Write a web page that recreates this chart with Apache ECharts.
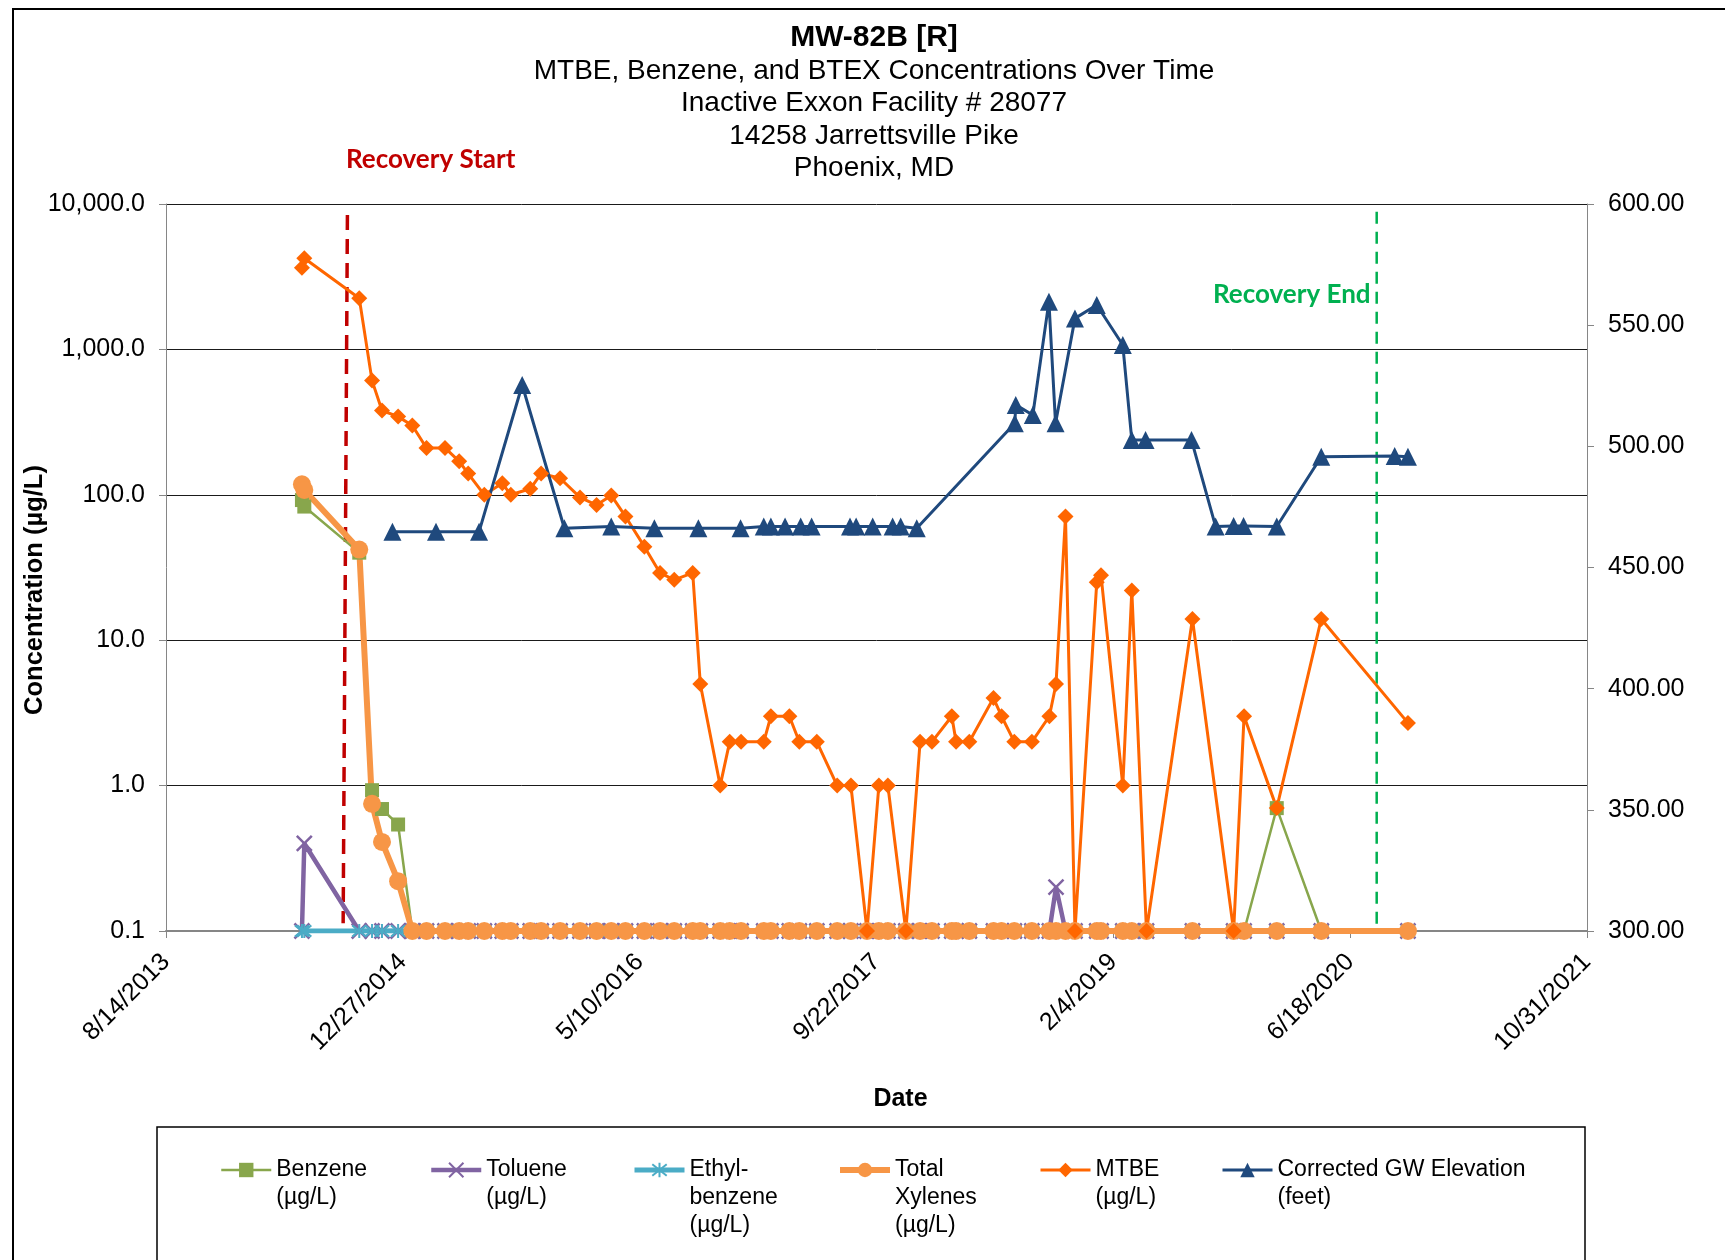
<!DOCTYPE html>
<html><head><meta charset="utf-8">
<script src="https://cdn.jsdelivr.net/npm/echarts/dist/echarts.min.js"></script>
<style>html,body{margin:0;padding:0;background:#fff}#chart{width:1725px;height:1260px}</style>
</head><body><div id="chart"></div>
<script>
// ---------------- DATA ----------------
const xTickLabels = ['8/14/2013', '12/27/2014', '5/10/2016', '9/22/2017', '2/4/2019', '6/18/2020', '10/31/2021'];
const yLeftTicks = [0.1, 1, 10, 100, 1000, 10000];
const yRightTicks = [300, 350, 400, 450, 500, 550, 600];

const sampleDates = [
 '2014-05-28','2014-06-02','2014-09-26','2014-10-23','2014-11-13','2014-12-17','2015-01-16','2015-02-15',
 '2015-03-26','2015-04-25','2015-05-14','2015-06-17','2015-07-25','2015-08-12','2015-09-22','2015-10-15',
 '2015-11-24','2016-01-05','2016-02-09','2016-03-11','2016-04-10','2016-05-20','2016-06-22','2016-07-22',
 '2016-08-30','2016-09-15','2016-10-27','2016-11-16','2016-12-10','2017-01-27','2017-02-11','2017-03-22',
 '2017-04-12','2017-05-19','2017-07-01','2017-07-30','2017-09-02','2017-09-27','2017-10-16','2017-11-23',
 '2017-12-23','2018-01-17','2018-02-28','2018-03-09','2018-04-06','2018-05-27','2018-06-13','2018-07-10',
 '2018-08-16','2018-09-22','2018-10-06','2018-10-26','2018-11-15','2018-12-31','2019-01-09','2019-02-24',
 '2019-03-15','2019-04-15','2019-07-21','2019-10-16','2019-11-07','2020-01-15','2020-04-18','2020-10-18'
];
const mtbe = [
 3650, 4240, 2250, 610, 380, 345, 300, 210,
 210, 170, 140, 100, 120, 100, 110, 140,
 130, 96, 85, 99, 71, 44, 29, 26,
 29, 5, 1, 2, 2, 2, 3, 3,
 2, 2, 1, 1, 0.1, 1, 1, 0.1,
 2, 2, 3, 2, 2, 4, 3, 2,
 2, 3, 5, 71, 0.1, 25, 28, 1,
 22, 0.1, 14, 0.1, 3, 0.7, 14, 2.7
];
const benzene = [
 92, 83, 40, 0.93, 0.69, 0.54, 0.1, 0.1,
 0.1, 0.1, 0.1, 0.1, 0.1, 0.1, 0.1, 0.1,
 0.1, 0.1, 0.1, 0.1, 0.1, 0.1, 0.1, 0.1,
 0.1, 0.1, 0.1, 0.1, 0.1, 0.1, 0.1, 0.1,
 0.1, 0.1, 0.1, 0.1, 0.1, 0.1, 0.1, 0.1,
 0.1, 0.1, 0.1, 0.1, 0.1, 0.1, 0.1, 0.1,
 0.1, 0.1, 0.1, 0.1, 0.1, 0.1, 0.1, 0.1,
 0.1, 0.1, 0.1, 0.1, 0.1, 0.7, 0.1, 0.1
];
const toluene = [
 0.1, 0.4, 0.1, 0.1, 0.1, 0.1, 0.1, 0.1,
 0.1, 0.1, 0.1, 0.1, 0.1, 0.1, 0.1, 0.1,
 0.1, 0.1, 0.1, 0.1, 0.1, 0.1, 0.1, 0.1,
 0.1, 0.1, 0.1, 0.1, 0.1, 0.1, 0.1, 0.1,
 0.1, 0.1, 0.1, 0.1, 0.1, 0.1, 0.1, 0.1,
 0.1, 0.1, 0.1, 0.1, 0.1, 0.1, 0.1, 0.1,
 0.1, 0.1, 0.2, 0.1, 0.1, 0.1, 0.1, 0.1,
 0.1, 0.1, 0.1, 0.1, 0.1, 0.1, 0.1, 0.1
];
const ethylbenzene = [
 0.1, 0.1, 0.1, 0.1, 0.1, 0.1, 0.1, 0.1,
 0.1, 0.1, 0.1, 0.1, 0.1, 0.1, 0.1, 0.1,
 0.1, 0.1, 0.1, 0.1, 0.1, 0.1, 0.1, 0.1,
 0.1, 0.1, 0.1, 0.1, 0.1, 0.1, 0.1, 0.1,
 0.1, 0.1, 0.1, 0.1, 0.1, 0.1, 0.1, 0.1,
 0.1, 0.1, 0.1, 0.1, 0.1, 0.1, 0.1, 0.1,
 0.1, 0.1, 0.1, 0.1, 0.1, 0.1, 0.1, 0.1,
 0.1, 0.1, 0.1, 0.1, 0.1, 0.1, 0.1, 0.1
];
const xylenes = [
 118, 108, 42, 0.75, 0.41, 0.22, 0.1, 0.1,
 0.1, 0.1, 0.1, 0.1, 0.1, 0.1, 0.1, 0.1,
 0.1, 0.1, 0.1, 0.1, 0.1, 0.1, 0.1, 0.1,
 0.1, 0.1, 0.1, 0.1, 0.1, 0.1, 0.1, 0.1,
 0.1, 0.1, 0.1, 0.1, 0.1, 0.1, 0.1, 0.1,
 0.1, 0.1, 0.1, 0.1, 0.1, 0.1, 0.1, 0.1,
 0.1, 0.1, 0.1, 0.1, 0.1, 0.1, 0.1, 0.1,
 0.1, 0.1, 0.1, 0.1, 0.1, 0.1, 0.1, 0.1
];
const gwDates = [
 '2014-12-05','2015-03-07','2015-06-06','2015-09-05','2015-12-03','2016-03-11','2016-06-10','2016-09-11',
 '2016-12-09','2017-01-27','2017-02-11','2017-03-13','2017-04-15','2017-05-08','2017-07-28','2017-08-10',
 '2017-09-14','2017-10-26','2017-11-12','2017-12-16','2018-07-11','2018-07-13','2018-08-18','2018-09-21',
 '2018-10-05','2018-11-15','2018-12-31','2019-02-24','2019-03-15','2019-04-13','2019-07-19','2019-09-08',
 '2019-10-16','2019-11-06','2020-01-15','2020-04-18','2020-09-20','2020-10-18'
];
const gwElevation = [
 464.8, 464.8, 464.8, 525.3, 466.2, 466.9, 466.2, 466.2,
 466.2, 466.9, 466.9, 466.9, 466.9, 466.9, 466.9, 466.9,
 466.9, 466.9, 466.9, 466.2, 509.5, 517.1, 512.9, 559.7,
 509.5, 552.8, 558.3, 541.8, 502.6, 502.6, 502.6, 466.9,
 467.1, 467.1, 466.9, 495.7, 496.0, 495.7
];
// Recovery marker lines (date, concentration) endpoints
const recoveryStartDates = ['2014-09-01', '2014-08-23'];
const recoveryStartValues = [8400, 0.113];
const recoveryEndDates = ['2020-08-13', '2020-08-13'];
const recoveryEndValues = [8850, 0.1];

const seriesNames = ['Benzene (µg/L)', 'Toluene (µg/L)', 'Ethyl-benzene (µg/L)', 'Total Xylenes (µg/L)', 'MTBE (µg/L)', 'Corrected GW Elevation (feet)'];
const legendLabels = ['Benzene\n(µg/L)', 'Toluene\n(µg/L)', 'Ethyl-\nbenzene\n(µg/L)', 'Total\nXylenes\n(µg/L)', 'MTBE\n(µg/L)', 'Corrected GW Elevation\n(feet)'];

// ---------------- HELPERS ----------------
const DAY = 86400000, EXCEL0 = Date.UTC(1899, 11, 30);
const isoSerial = s => (Date.parse(s) - EXCEL0) / DAY;
const mdySerial = s => { const [m, d, y] = s.split('/').map(Number); return (Date.UTC(y, m - 1, d) - EXCEL0) / DAY; };
const pairs = (dates, vals) => dates.map((d, i) => [isoSerial(d), vals[i]]);
const xMin = mdySerial(xTickLabels[0]);
const xMax = mdySerial(xTickLabels[xTickLabels.length - 1]);
const xStep = mdySerial(xTickLabels[1]) - xMin;

const FONT = "'Liberation Sans', Arial, sans-serif";
const TICK_FONT = 25;
const GRID = { left: 166, right: 138, top: 204, bottom: 329 };

const chart = echarts.init(document.getElementById('chart'), null, { renderer: 'canvas' });

const styles = [
  { color: '#88A64C', width: 2.5, symbol: 'rect', size: 14 },
  { color: '#8064A2', width: 4.5, symbol: 'path://M0,0L10,10M10,0L0,10', size: 15, border: 2.5 },
  { color: '#4BACC6', width: 5, symbol: 'path://M0,1L10,9M10,1L0,9M5,0L5,10', size: 14, border: 2 },
  { color: '#F79646', width: 6, symbol: 'circle', size: 18 },
  { color: '#FF6600', width: 3, symbol: 'diamond', size: 16 },
  { color: '#1F497D', width: 3, symbol: 'triangle', size: 18 }
];
const seriesData = [
  pairs(sampleDates, benzene), pairs(sampleDates, toluene), pairs(sampleDates, ethylbenzene),
  pairs(sampleDates, xylenes), pairs(sampleDates, mtbe), pairs(gwDates, gwElevation)
];

const series = [
  { type: 'line', data: pairs(recoveryStartDates, recoveryStartValues), symbol: 'none', silent: true,
    lineStyle: { color: '#C00000', width: 3.5, type: [15, 9] }, z: 1, animation: false },
  { type: 'line', data: pairs(recoveryEndDates, recoveryEndValues), symbol: 'none', silent: true,
    lineStyle: { color: '#00B050', width: 2.5, type: [12, 8] }, z: 1, animation: false }
].concat(seriesNames.map((name, i) => {
  const s = styles[i];
  const itemStyle = { color: s.color };
  if (s.border) { itemStyle.borderColor = s.color; itemStyle.borderWidth = s.border; }
  return {
    name, type: 'line', data: seriesData[i], yAxisIndex: i === 5 ? 1 : 0,
    symbol: s.symbol, symbolSize: s.size,
    lineStyle: { color: s.color, width: s.width },
    itemStyle, emphasis: { disabled: true }, animation: false
  };
}));

const LEG_LH = 28, LEG_ICON_CY = 1170;
const legendLefts = [220, 429, 632, 837, 1039, 1221];
const legend = seriesNames.map((name, i) => {
  const n = legendLabels[i].split('\n').length;
  const label = '\n'.repeat(n - 1) + legendLabels[i];
  return {
    data: [name], left: legendLefts[i], top: LEG_ICON_CY - (2 * n - 1) * LEG_LH / 2,
    orient: 'horizontal', padding: 0,
    itemWidth: 50, itemHeight: 18, itemGap: 0, selectedMode: false,
    lineStyle: { width: styles[i].width },
    formatter: () => label,
    textStyle: { fontFamily: FONT, fontSize: 23, color: '#000', lineHeight: LEG_LH }
  };
});

const fmtConc = v => Number(v).toLocaleString('en-US', { minimumFractionDigits: 1, maximumFractionDigits: 1 });

const option = {
  backgroundColor: '#fff',
  animation: false,
  title: {
    text: 'MW-82B [R]',
    subtext: 'MTBE, Benzene, and BTEX Concentrations Over Time\nInactive Exxon Facility # 28077\n14258 Jarrettsville Pike\nPhoenix, MD',
    left: 874, top: 21, textAlign: 'center', padding: 0, itemGap: 0,
    textStyle: { fontFamily: FONT, fontSize: 30, fontWeight: 'bold', color: '#000', lineHeight: 34 },
    subtextStyle: { fontFamily: FONT, fontSize: 28, color: '#000', lineHeight: 32.4 }
  },
  legend,
  grid: Object.assign({ containLabel: false, outerBoundsMode: 'none' }, GRID),
  xAxis: {
    type: 'value', min: xMin, max: xMax, interval: xStep,
    name: 'Date', nameLocation: 'middle', nameGap: 156, nameMoveOverlap: false,
    nameTextStyle: { fontFamily: FONT, fontSize: 25, fontWeight: 'bold', color: '#000', padding: [0, 0, 0, 48] },
    axisLine: { show: true, onZero: false, lineStyle: { color: '#868686', width: 2 } },
    axisTick: { show: true, inside: false, length: 7, lineStyle: { color: '#868686', width: 1 } },
    axisLabel: {
      rotate: 45, margin: 27, fontFamily: FONT, fontSize: TICK_FONT, color: '#000',
      showMinLabel: true, showMaxLabel: true,
      formatter: v => xTickLabels[Math.round((v - xMin) / xStep)] || ''
    },
    splitLine: { show: false }
  },
  yAxis: [
    {
      type: 'log', logBase: 10, min: yLeftTicks[0], max: yLeftTicks[yLeftTicks.length - 1], position: 'left',
      name: 'Concentration (µg/L)', nameLocation: 'middle', nameGap: 118, nameRotate: 90, nameMoveOverlap: false,
      nameTextStyle: { fontFamily: FONT, fontSize: 25.5, fontWeight: 'bold', color: '#000', padding: [0, 45, 0, 0] },
      axisLine: { show: true, lineStyle: { color: '#868686', width: 1 } },
      axisTick: { show: true, inside: false, length: 7, lineStyle: { color: '#868686' } },
      axisLabel: { margin: 21, fontFamily: FONT, fontSize: TICK_FONT, color: '#000', formatter: fmtConc },
      splitLine: { show: true, lineStyle: { color: '#1a1a1a', width: 1 } }
    },
    {
      type: 'value', min: yRightTicks[0], max: yRightTicks[yRightTicks.length - 1],
      interval: yRightTicks[1] - yRightTicks[0], position: 'right',
      axisLine: { show: true, lineStyle: { color: '#868686', width: 1 } },
      axisTick: { show: true, inside: false, length: 7, lineStyle: { color: '#868686' } },
      axisLabel: { margin: 21, fontFamily: FONT, fontSize: TICK_FONT, color: '#000', formatter: v => Number(v).toFixed(2) },
      splitLine: { show: false }
    }
  ],
  graphic: [
    { type: 'rect', z: -10, silent: true, shape: { x: 13, y: 9, width: 1800, height: 1400 },
      style: { fill: 'none', stroke: '#000', lineWidth: 2 } },
    { type: 'rect', z: -10, silent: true, shape: { x: 157, y: 1127, width: 1428, height: 300 },
      style: { fill: 'none', stroke: '#000', lineWidth: 1.5 } },
    { type: 'text', left: 346, top: 147, silent: true,
      style: { text: 'Recovery Start', fill: '#C00000', font: "bold 26px Lato, 'Open Sans', sans-serif" } },
    { type: 'text', left: 1213, top: 282, silent: true,
      style: { text: 'Recovery End', fill: '#00B050', font: "bold 26px Lato, 'Open Sans', sans-serif" } }
  ],
  series
};

chart.setOption(option);
</script></body></html>
